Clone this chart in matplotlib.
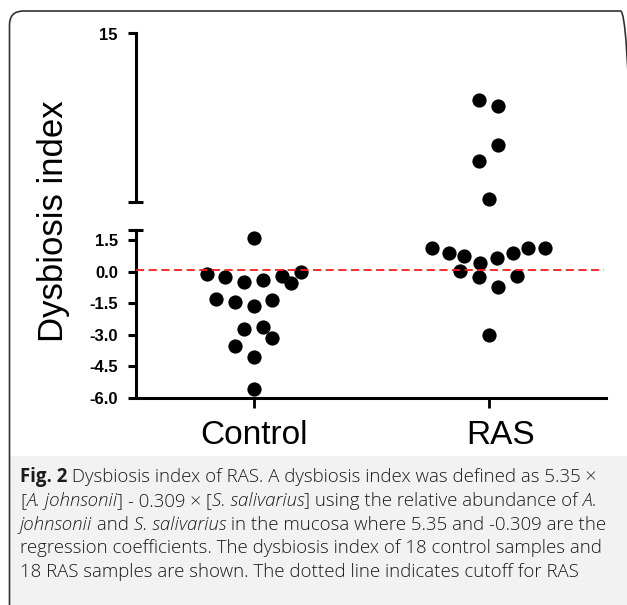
import matplotlib
matplotlib.use("Agg")
import matplotlib.pyplot as plt
from matplotlib.patches import FancyBboxPatch, Rectangle
from matplotlib.transforms import IdentityTransform, ScaledTranslation
import numpy as np

# data
groups = ["Control", "RAS"]
ctrl_values = [1.58, -0.11, -0.27, -0.47, -0.39, -0.20, -0.55, -0.03, -1.30,
               -1.42, -1.61, -1.34, -2.73, -2.61, -3.15, -3.53, -4.03, -5.58]
ctrl_offsets = [0.0, -0.20, -0.12, -0.04, 0.04, 0.12, 0.16, 0.20, -0.16,
                -0.08, 0.0, 0.08, -0.04, 0.04, 0.08, -0.08, 0.0, 0.0]
ras_values = [9.87, 9.41, 6.40, 5.16, 2.21, 1.11, 0.87, 0.76, 0.43,
              0.64, 0.87, 1.11, 1.14, 0.05, -0.24, -0.19, -0.71, -3.00]
ras_offsets = [-0.04, 0.04, 0.04, -0.04, 0.0, -0.24, -0.17, -0.105, -0.035,
               0.035, 0.105, 0.17, 0.24, -0.12, -0.04, 0.12, 0.04, 0.0]
cutoff = 0.08
lower_ticks = [-6.0, -4.5, -3.0, -1.5, 0.0, 1.5]
upper_ticks = [15]
lower_range = (-6, 2)
upper_range = (2, 15)

caption_lines = [
    [("Fig. 2", "bold"), (" Dysbiosis index of RAS. A dysbiosis index was defined as 5.35 \u00d7", "normal")],
    [("[", "normal"), ("A. johnsonii", "italic"), ("] - 0.309 \u00d7 [", "normal"), ("S. salivarius", "italic"),
     ("] using the relative abundance of", "normal"), (" A.", "italic")],
    [("johnsonii", "italic"), (" and", "normal"), (" S. salivarius", "italic"),
     (" in the mucosa where 5.35 and -0.309 are the", "normal")],
    [("regression coefficients. The dysbiosis index of 18 control samples and", "normal")],
    [("18 RAS samples are shown. The dotted line indicates cutoff for RAS", "normal")],
]

W, H = 627, 605
fig = plt.figure(figsize=(W / 100, H / 100), dpi=100)

# frame + caption panel
fig.patches.append(Rectangle((10, 0), W - 10, H - 456, transform=IdentityTransform(),
                             facecolor="#f2f2f2", edgecolor="none", zorder=0))
fig.patches.append(FancyBboxPatch((9.5, -30), 625, H - 11 + 30,
                                  boxstyle="round,pad=0,rounding_size=14",
                                  transform=IdentityTransform(), facecolor="none",
                                  edgecolor="#333333", linewidth=1.2, zorder=1))


def px_box(x0, y0, x1, y1):
    return [x0 / W, 1 - y1 / H, (x1 - x0) / W, (y1 - y0) / H]


ax_lo = fig.add_axes(px_box(136, 229.5, 606, 398))
ax_hi = fig.add_axes(px_box(136, 33.5, 606, 202))

tick_font = dict(family="Liberation Sans", fontsize=12, fontweight="bold")
spine_w = 2.2

for ax in (ax_lo, ax_hi):
    ax.set_facecolor("none")
    ax.set_xlim(0.5, 2.5)
    for s in ("top", "right"):
        ax.spines[s].set_visible(False)
    ax.spines["left"].set_linewidth(spine_w)
    ax.tick_params(axis="y", direction="out", length=6, width=spine_w, pad=7)

ax_hi.spines["bottom"].set_visible(False)
ax_hi.set_xticks([])
ax_hi.set_ylim(*upper_range)
ax_hi.set_yticks(upper_ticks)
ax_hi.set_yticklabels([str(v) for v in upper_ticks], **tick_font)

ax_lo.spines["bottom"].set_linewidth(spine_w)
ax_lo.set_ylim(*lower_range)
ax_lo.set_yticks(lower_ticks)
ax_lo.set_yticklabels([f"{v:.1f}" for v in lower_ticks], **tick_font)
ax_lo.set_xticks([1, 2])
ax_lo.set_xticklabels(groups, family="Liberation Sans", fontsize=24)
ax_lo.tick_params(axis="x", direction="out", length=7.5, width=2, pad=8)

# break caps
w_ax = 470
ax_hi.plot([-8 / w_ax, 7 / w_ax], [0, 0], transform=ax_hi.transAxes, color="black",
           lw=spine_w, clip_on=False, solid_capstyle="butt")
ax_lo.plot([-8 / w_ax, 7 / w_ax], [1, 1], transform=ax_lo.transAxes, color="black",
           lw=spine_w, clip_on=False, solid_capstyle="butt")

# points
for i, (vals, offs) in enumerate([(ctrl_values, ctrl_offsets), (ras_values, ras_offsets)]):
    vals = np.array(vals)
    xs = i + 1 + np.array(offs)
    hi = vals > lower_range[1]
    ax_hi.scatter(xs[hi], vals[hi], s=105, color="black", linewidths=0, clip_on=False, zorder=3)
    ax_lo.scatter(xs[~hi], vals[~hi], s=105, color="black", linewidths=0, clip_on=False, zorder=3)

ax_lo.plot([0.5, 2.49], [cutoff, cutoff], color="#ff1a1a", lw=1.3, ls=(0, (4.5, 2.5)), zorder=4)

fig.text(54 / W, 1 - 221 / H, "Dysbiosis index", rotation=90, ha="center", va="center",
         family="Liberation Sans", fontsize=25)

# nudge RAS label to the right like the original
lab = ax_lo.get_xticklabels()[1]
lab.set_transform(lab.get_transform() + ScaledTranslation(12 / 100, 0, fig.dpi_scale_trans))

# caption
renderer = fig.canvas.get_renderer()


def seg_props(style):
    if style == "bold":
        return dict(fontweight="bold")
    if style == "italic":
        return dict(fontstyle="italic", fontweight="light")
    return dict(fontweight="light")


def draw_line(segs, x, y, size, keep=True):
    arts = []
    for txt, style in segs:
        t = fig.text(x / W, 1 - y / H, txt, fontsize=size, family="Open Sans",
                     color="#1a1a1a", va="baseline", ha="left", **seg_props(style))
        x += t.get_window_extent(renderer).width
        arts.append(t)
    if not keep:
        for t in arts:
            t.remove()
    return x


# fit font size to the total width of the caption lines in the original
ref_widths = [588, 580, 586, 580, 545]
base = 12
measured = sum(draw_line(segs, 20, 482, base, keep=False) - 20 for segs in caption_lines)
cap_size = base * sum(ref_widths) / measured

for k, segs in enumerate(caption_lines):
    draw_line(segs, 20, 482 + k * 23.75, cap_size)

fig.savefig("out.png", dpi=100)
